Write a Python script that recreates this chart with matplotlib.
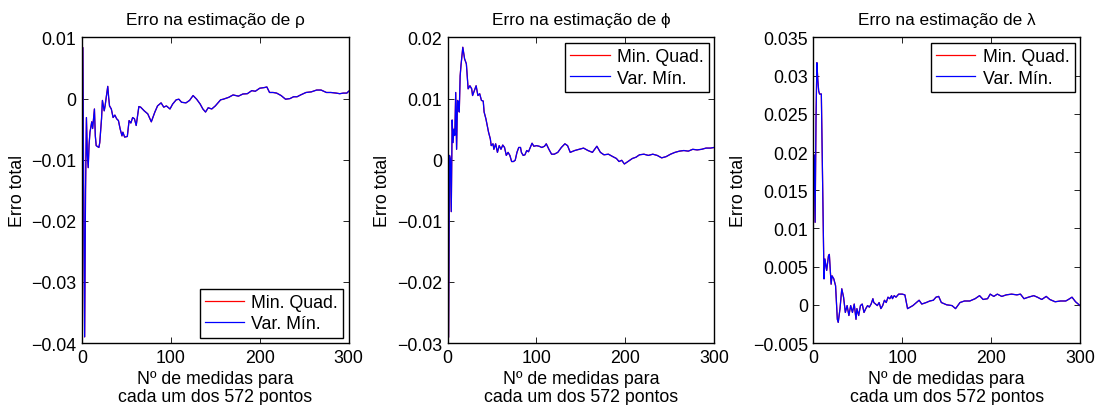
import matplotlib
matplotlib.use('Agg')
import matplotlib.pyplot as plt

plt.rcParams['font.family'] = ['Liberation Sans', 'DejaVu Sans']
plt.rcParams['font.size'] = 12.8
plt.rcParams['axes.unicode_minus'] = True

# -------------------------------------------------------------------
# Dados (nº de medidas, erro total)
rho_n = [1, 2, 3, 4, 5, 6, 7, 8, 9, 11, 12, 14, 15, 16, 19, 20, 22, 23, 25, 26,
         27, 29, 30, 31, 33, 35, 37, 39, 41, 43, 45, 46, 48, 51, 53, 55, 57, 59,
         61, 64, 66, 70, 74, 78, 82, 85, 89, 92, 95, 99, 102, 106, 109, 112,
         117, 121, 125, 129, 133, 136, 139, 142, 146, 150, 153, 156, 159, 165,
         170, 176, 181, 186, 191, 195, 200, 205, 208, 211, 215, 219, 224, 229,
         234, 238, 242, 246, 252, 258, 264, 269, 275, 280, 286, 290, 294, 298,
         300]
rho_err = [0.0083, -0.018, -0.039, -0.015, -0.0031, -0.009, -0.0113, -0.0075,
           -0.0055, -0.0038, -0.0049, -0.0017, -0.0061, -0.0077, -0.008,
           -0.0072, -0.0033, -0.0003, -0.002, -0.0012, -0.0001, 0.002, 0.0002,
           -0.0012, -0.0017, -0.0031, -0.0027, -0.0033, -0.0036, -0.005,
           -0.0061, -0.0055, -0.0063, -0.0062, -0.0036, -0.004, -0.0031,
           -0.0033, -0.0044, -0.0013, -0.0014, -0.002, -0.0025, -0.0038,
           -0.0022, -0.0012, -0.0007, -0.0014, -0.0012, -0.0017, -0.0009,
           -0.0002, -0.0001, -0.0006, -0.0007, -0.0003, 0.0005, -0.0001,
           -0.0009, -0.0017, -0.0022, -0.0015, -0.0017, -0.0012, -0.0007,
           -0.0002, -0.0001, 0.0002, 0.0006, 0.0004, 0.00075, 0.0008, 0.0013,
           0.0012, 0.0017, 0.0018, 0.0019, 0.001, 0.001, 0.0009, 0.0005,
           -0.0001, 0.0, 0.0003, 0.0003, 0.0006, 0.001, 0.0011, 0.0014, 0.0014,
           0.001, 0.001, 0.0009, 0.0008, 0.0009, 0.0009, 0.0012]

phi_n = [1, 2, 3, 4, 5, 6, 7, 8, 9, 10, 11, 12, 13, 14, 15, 17, 19, 21, 23, 25,
         27, 28, 30, 32, 34, 36, 38, 40, 41, 43, 46, 48, 49, 51, 52, 54, 56, 58,
         60, 62, 64, 66, 68, 70, 72, 74, 76, 78, 80, 82, 83, 85, 87, 89, 91, 93,
         95, 97, 100, 103, 106, 109, 111, 114, 117, 120, 124, 128, 132, 135,
         138, 143, 148, 153, 158, 163, 168, 172, 176, 181, 186, 190, 193, 196,
         199, 203, 208, 212, 216, 221, 226, 231, 236, 241, 246, 251, 256, 261,
         266, 271, 276, 281, 286, 291, 296, 300]
phi_err = [-0.029, 0.0007, 0.0, -0.0085, 0.0065, 0.0028, 0.005, 0.004, 0.011,
           0.0017, 0.0097, 0.0095, 0.0078, 0.0137, 0.0155, 0.0184, 0.0165,
           0.0157, 0.0116, 0.0121, 0.0116, 0.0105, 0.0113, 0.0121, 0.0105,
           0.0108, 0.0097, 0.0096, 0.0078, 0.0067, 0.0045, 0.0034, 0.0023,
           0.0026, 0.0017, 0.0026, 0.0012, 0.0023, 0.0017, 0.0024, 0.002,
           0.0007, 0.0012, 0.0007, -0.0003, -0.0003, -0.0001, 0.0012, 0.002,
           0.002, 0.0012, 0.0007, 0.0008, 0.0015, 0.0013, 0.002, 0.0027, 0.0022,
           0.0023, 0.0022, 0.002, 0.0022, 0.0026, 0.0017, 0.0009, 0.0009,
           0.0012, 0.002, 0.0026, 0.0023, 0.0012, 0.0015, 0.0017, 0.0019,
           0.0015, 0.0012, 0.0022, 0.0012, 0.0008, 0.0009, 0.0005, 0.0002,
           -0.0003, -0.0001, -0.0007, -0.0003, 0.0002, 0.0004, 0.0008, 0.0009,
           0.0007, 0.0009, 0.0007, 0.0003, 0.0005, 0.0009, 0.0012, 0.0014,
           0.0015, 0.0014, 0.0017, 0.0016, 0.0017, 0.0019, 0.0019, 0.002]

lam_n = [1, 2, 3, 4, 5, 6, 7, 9, 12, 13, 15, 17, 18, 20, 21, 23, 25, 27, 28, 30,
         32, 34, 36, 38, 40, 42, 44, 46, 48, 49, 51, 53, 55, 57, 59, 61, 63, 65,
         67, 68, 70, 72, 74, 76, 78, 80, 82, 84, 86, 88, 89, 91, 93, 96, 100,
         103, 106, 109, 112, 116, 119, 122, 127, 131, 135, 138, 141, 144, 150,
         156, 160, 165, 170, 176, 182, 187, 191, 196, 199, 203, 207, 212, 217,
         223, 229, 233, 237, 242, 248, 252, 257, 262, 266, 272, 278, 284, 287,
         291, 295, 299, 300]
lam_err = [0.0196, 0.0108, 0.0243, 0.0317, 0.0295, 0.028, 0.0276, 0.0276,
           0.0034, 0.006, 0.0045, 0.0064, 0.0066, 0.0027, 0.0038, 0.0034,
           0.0025, -0.0019, -0.0023, -0.0005, 0.0021, 0.001, -0.001, -0.0001,
           -0.0014, -0.0001, -0.001, 0.0001, -0.0019, -0.0005, -0.0014, -0.0001,
           0.0001, -0.001, -0.0005, -0.0001, -0.0003, 0.0001, 0.0008, 0.0003,
           0.0001, -0.0001, 0.0003, -0.0005, -0.0001, 0.0006, 0.0003, 0.001,
           0.0008, 0.0012, 0.0008, 0.0012, 0.001, 0.0014, 0.0014, 0.0013,
           -0.0005, -0.0003, -0.0001, 0.0003, 0.0006, 0.0001, 0.0003, 0.0005,
           0.0006, 0.001, 0.0011, 0.0003, 0.0, -0.0001, -0.0005, 0.0003, 0.0005,
           0.0005, 0.0008, 0.0012, 0.0007, 0.0008, 0.0014, 0.0011, 0.0014,
           0.0011, 0.0013, 0.0014, 0.0013, 0.0014, 0.0008, 0.001, 0.0012, 0.001,
           0.0007, 0.0011, 0.0007, 0.0004, 0.0005, 0.0005, 0.0007, 0.001,
           0.0004, 0.0, -0.0001]

rho_yticks = [-0.04, -0.03, -0.02, -0.01, 0, 0.01]
phi_yticks = [-0.03, -0.02, -0.01, 0, 0.01, 0.02]
lam_yticks = [-0.005, 0, 0.005, 0.01, 0.015, 0.02, 0.025, 0.03, 0.035]
x_ticks = [0, 100, 200, 300]

rotulos = ['Min. Quad.', 'Var. Mín.']


def fmt(v):
    if v == 0:
        return '0'
    s = ('%.3f' % v).rstrip('0')
    return s.replace('-', '\u2212')


def painel(pos, n, err, titulo, yticks, loc):
    ax = fig.add_axes(pos)
    # as duas estimativas praticamente coincidem
    ax.plot(n, err, color='red', lw=0.9, label=rotulos[0])
    ax.plot(n, err, color='blue', lw=0.9, label=rotulos[1])
    ax.set_xlim(0, 300)
    ax.set_ylim(yticks[0], yticks[-1])
    ax.set_xticks(x_ticks)
    ax.set_yticks(yticks)
    ax.set_yticklabels([fmt(v) for v in yticks])
    ax.tick_params(direction='in', length=4, width=0.6, top=True, right=True,
                   labelsize=12.8, pad=4)
    for s in ax.spines.values():
        s.set_linewidth(1.0)
    ax.set_title(titulo, fontsize=12.4, pad=10)
    ax.set_xlabel('Nº de medidas para\ncada um dos 572 pontos', fontsize=12.8,
                  labelpad=3, linespacing=1.12)
    ax.set_ylabel('Erro total', fontsize=12.8, labelpad=4)
    leg = ax.legend(loc=loc, fontsize=12.8, fancybox=False, framealpha=1,
                    edgecolor='black', handlelength=2.2, borderaxespad=0.3,
                    borderpad=0.3, labelspacing=0.25, handletextpad=0.4)
    leg.get_frame().set_linewidth(1.0)
    return ax


fig = plt.figure(figsize=(10.96, 4.06), dpi=100)

painel([0.0748, 0.1527, 0.2433, 0.7525], rho_n, rho_err,
       'Erro na estimação de ρ', rho_yticks, 'lower right')
painel([0.4085, 0.1527, 0.2430, 0.7525], phi_n, phi_err,
       'Erro na estimação de ϕ', phi_yticks, 'upper right')
painel([0.7421, 0.1527, 0.2433, 0.7525], lam_n, lam_err,
       'Erro na estimação de λ', lam_yticks, 'upper right')

fig.savefig('out.png', dpi=100)
